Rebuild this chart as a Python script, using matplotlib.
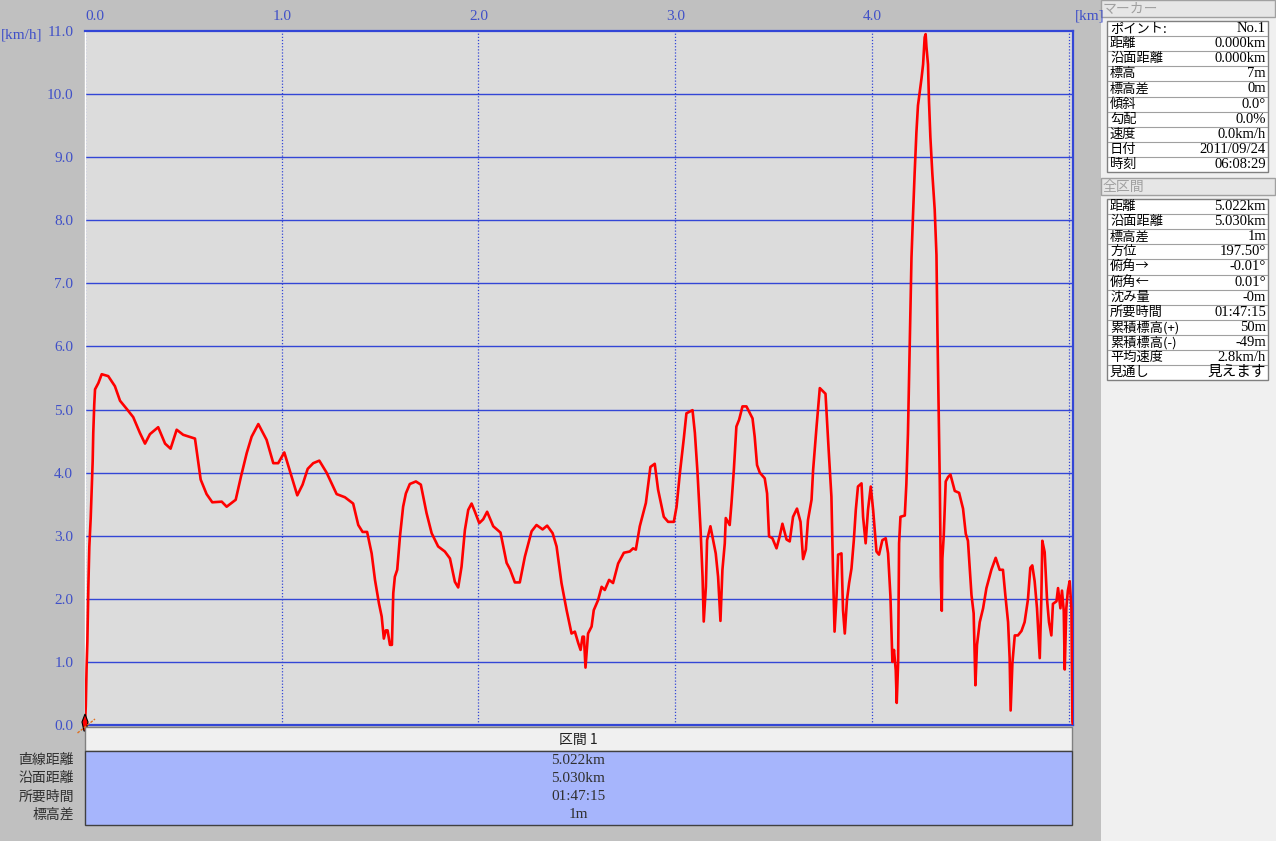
import matplotlib
matplotlib.use("Agg")
import matplotlib.pyplot as plt
from matplotlib.patches import Rectangle, Polygon

# distance along the track [km] and speed [km/h]
dist_km = [
    0.000, 0.004, 0.008, 0.012, 0.017, 0.022, 0.029, 0.034, 0.039, 0.042,
    0.047, 0.051, 0.068, 0.085, 0.118, 0.152, 0.178, 0.212, 0.245, 0.279,
    0.305, 0.330, 0.372, 0.407, 0.435, 0.466, 0.499, 0.559, 0.588, 0.618,
    0.647, 0.695, 0.720, 0.766, 0.793, 0.822, 0.847, 0.881, 0.923, 0.957,
    0.982, 1.013, 1.042, 1.079, 1.106, 1.132, 1.160, 1.191, 1.228, 1.279,
    1.321, 1.363, 1.389, 1.411, 1.434, 1.457, 1.474, 1.494, 1.508, 1.519,
    1.529, 1.538, 1.550, 1.560, 1.567, 1.575, 1.587, 1.601, 1.617, 1.631,
    1.651, 1.682, 1.707, 1.736, 1.762, 1.795, 1.829, 1.855, 1.880, 1.897,
    1.914, 1.931, 1.948, 1.965, 1.982, 2.004, 2.024, 2.044, 2.075, 2.112,
    2.143, 2.160, 2.185, 2.210, 2.236, 2.270, 2.295, 2.326, 2.349, 2.377,
    2.397, 2.422, 2.448, 2.473, 2.490, 2.507, 2.519, 2.529, 2.536, 2.544,
    2.557, 2.575, 2.586, 2.608, 2.626, 2.642, 2.664, 2.684, 2.710, 2.739,
    2.769, 2.786, 2.800, 2.820, 2.851, 2.874, 2.896, 2.913, 2.942, 2.964,
    2.993, 3.007, 3.023, 3.044, 3.057, 3.088, 3.100, 3.113, 3.129, 3.139,
    3.145, 3.156, 3.162, 3.179, 3.206, 3.218, 3.230, 3.240, 3.252, 3.257,
    3.277, 3.286, 3.298, 3.311, 3.325, 3.342, 3.362, 3.393, 3.404, 3.416,
    3.430, 3.455, 3.467, 3.477, 3.494, 3.515, 3.531, 3.545, 3.566, 3.582,
    3.599, 3.619, 3.637, 3.650, 3.664, 3.675, 3.693, 3.701, 3.718, 3.735,
    3.764, 3.780, 3.794, 3.802, 3.810, 3.820, 3.828, 3.845, 3.853, 3.862,
    3.873, 3.884, 3.896, 3.908, 3.918, 3.929, 3.947, 3.955, 3.968, 3.980,
    3.994, 4.006, 4.023, 4.036, 4.053, 4.070, 4.082, 4.094, 4.104, 4.112,
    4.121, 4.126, 4.133, 4.138, 4.145, 4.167, 4.175, 4.183, 4.192, 4.201,
    4.209, 4.217, 4.226, 4.234, 4.243, 4.252, 4.260, 4.268, 4.273, 4.277,
    4.285, 4.290, 4.297, 4.307, 4.319, 4.328, 4.333, 4.339, 4.345, 4.350,
    4.355, 4.358, 4.365, 4.375, 4.387, 4.399, 4.421, 4.443, 4.463, 4.477,
    4.488, 4.506, 4.517, 4.526, 4.534, 4.548, 4.565, 4.582, 4.607, 4.629,
    4.649, 4.666, 4.678, 4.692, 4.700, 4.705, 4.714, 4.726, 4.742, 4.760,
    4.776, 4.793, 4.805, 4.815, 4.827, 4.839, 4.853, 4.861, 4.866, 4.878,
    4.890, 4.900, 4.912, 4.920, 4.938, 4.946, 4.958, 4.966, 4.975, 4.980,
    4.988, 4.996, 5.005, 5.014, 5.019, 5.022,
]
speed_kmh = [
    0.00, 0.30, 0.90, 1.32, 2.19, 2.83, 3.28, 3.73, 4.18, 4.63,
    5.08, 5.32, 5.42, 5.56, 5.53, 5.37, 5.14, 5.01, 4.88, 4.63,
    4.46, 4.61, 4.72, 4.46, 4.38, 4.68, 4.60, 4.54, 3.89, 3.66,
    3.53, 3.54, 3.46, 3.57, 3.94, 4.31, 4.57, 4.77, 4.52, 4.15,
    4.15, 4.32, 4.02, 3.64, 3.81, 4.06, 4.15, 4.19, 4.00, 3.66,
    3.61, 3.51, 3.17, 3.06, 3.06, 2.72, 2.30, 1.93, 1.72, 1.37,
    1.50, 1.50, 1.27, 1.27, 2.09, 2.35, 2.46, 2.99, 3.46, 3.67,
    3.82, 3.86, 3.81, 3.36, 3.04, 2.83, 2.75, 2.64, 2.27, 2.18,
    2.51, 3.09, 3.41, 3.51, 3.38, 3.20, 3.26, 3.38, 3.15, 3.05,
    2.57, 2.47, 2.26, 2.26, 2.67, 3.07, 3.17, 3.10, 3.16, 3.04,
    2.83, 2.25, 1.82, 1.45, 1.48, 1.30, 1.19, 1.40, 1.40, 0.91,
    1.45, 1.56, 1.82, 1.98, 2.19, 2.14, 2.30, 2.25, 2.56, 2.73,
    2.75, 2.80, 2.78, 3.15, 3.52, 4.09, 4.14, 3.73, 3.30, 3.22,
    3.22, 3.46, 3.97, 4.55, 4.94, 4.99, 4.63, 4.02, 3.09, 2.35,
    1.64, 2.19, 2.93, 3.15, 2.72, 2.35, 1.65, 2.46, 2.88, 3.28,
    3.17, 3.51, 4.04, 4.73, 4.84, 5.05, 5.05, 4.86, 4.57, 4.12,
    4.00, 3.91, 3.67, 2.99, 2.96, 2.80, 2.99, 3.19, 2.94, 2.91,
    3.30, 3.43, 3.22, 2.63, 2.78, 3.25, 3.57, 4.04, 4.71, 5.34,
    5.25, 4.36, 3.62, 2.46, 1.48, 2.04, 2.70, 2.72, 1.82, 1.45,
    1.98, 2.25, 2.48, 2.93, 3.41, 3.78, 3.83, 3.30, 2.88, 3.41,
    3.78, 3.41, 2.75, 2.70, 2.93, 2.96, 2.72, 2.04, 1.00, 1.19,
    0.87, 0.35, 0.98, 2.88, 3.30, 3.32, 3.82, 4.61, 6.01, 7.41,
    8.10, 8.74, 9.39, 9.82, 10.04, 10.25, 10.47, 10.90, 10.95, 10.75,
    10.47, 9.89, 9.32, 8.74, 8.17, 7.45, 6.23, 5.01, 3.82, 2.35,
    1.81, 2.64, 3.00, 3.86, 3.93, 3.97, 3.71, 3.68, 3.43, 3.03,
    2.92, 2.06, 1.77, 0.63, 1.27, 1.63, 1.85, 2.17, 2.46, 2.65,
    2.46, 2.46, 2.06, 1.63, 1.06, 0.23, 0.98, 1.42, 1.42, 1.49,
    1.63, 1.99, 2.49, 2.53, 2.28, 1.85, 1.06, 1.99, 2.92, 2.74,
    1.99, 1.63, 1.42, 1.92, 1.96, 2.17, 1.85, 2.13, 1.81, 0.88,
    1.85, 2.13, 2.28, 1.85, 0.05, 0.00,
]

x_ticks = [0, 1, 2, 3, 4]
x_labels = ["0.0", "1.0", "2.0", "3.0", "4.0"]
y_ticks = list(range(12))
y_labels = ["%.1f" % v for v in y_ticks]

section_title = "区間 1"
section_rows = ["直線距離", "沿面距離", "所要時間", "標高差"]
section_vals = ["5.022km", "5.030km", "01:47:15", "1m"]

marker_rows = ["ポイント:", "距離", "沿面距離", "標高", "標高差", "傾斜", "勾配", "速度", "日付", "時刻"]
marker_vals = ["No.1", "0.000km", "0.000km", "7m", "0m", "0.0°", "0.0%", "0.0km/h", "2011/09/24", "06:08:29"]

total_rows = ["距離", "沿面距離", "標高差", "方位", "俯角→", "俯角←", "沈み量", "所要時間",
              "累積標高(+)", "累積標高(-)", "平均速度", "見通し"]
total_vals = ["5.022km", "5.030km", "1m", "197.50°", "-0.01°", "0.01°", "-0m", "01:47:15",
              "50m", "-49m", "2.8km/h", "見えます"]

# styling
W, H = 1276, 841
blue = "#3346d6"
tick_blue = "#4050c8"
num_font = ["Liberation Serif", "Noto Sans CJK JP", "DejaVu Sans"]
jp_font = ["Noto Sans CJK JP", "DejaVu Sans"]
plt.rcParams["font.family"] = num_font

fig = plt.figure(figsize=(W / 100, H / 100), dpi=100, facecolor="#c0c0c0")

# main chart area (pixel box 85..1073 x 31..725)
ax = fig.add_axes([85 / W, (H - 725) / H, 988 / W, 694 / H])
ax.set_facecolor("#dcdcdc")
ax.set_xlim(0, 5.022)
ax.set_ylim(0, 11.0)

for v in range(1, 11):
    ax.axhline(v, color=blue, lw=1.0, zorder=1)
for d in [0, 1, 2, 3, 4, 5]:
    ax.axvline(d, color=blue, lw=0.9, ls=(0, (1, 1.5)), zorder=1)

ax.plot(dist_km, speed_kmh, color="#ff0000", lw=1.9, zorder=3)

for side in ["top", "bottom", "right"]:
    ax.spines[side].set_color(blue)
    ax.spines[side].set_linewidth(1.6)
ax.spines["left"].set_color("white")
ax.spines["left"].set_linewidth(1.0)

ax.xaxis.tick_top()
ax.set_xticks(x_ticks)
ax.set_xticklabels(x_labels)
ax.set_yticks(y_ticks)
ax.set_yticklabels(y_labels)
ax.tick_params(axis="x", length=0, pad=6, labelsize=11, labelcolor=tick_blue)
ax.tick_params(axis="y", length=0, pad=8.5, labelsize=11, labelcolor=tick_blue)
ax.get_xticklabels()[0].set_horizontalalignment("left")

# overlay in pixel coordinates for the window chrome
ov = fig.add_axes([0, 0, 1, 1], facecolor="none", zorder=5)
ov.set_xlim(0, W)
ov.set_ylim(H, 0)
ov.axis("off")

ov.text(1, 35, "[km/h]", color=tick_blue, fontsize=11, va="center", ha="left")
ov.text(1075, 16, "[km]", color=tick_blue, fontsize=11, va="center", ha="left")

# start marker
ov.plot([77.5, 95], [733, 719], color="#e07020", lw=1.0, ls=(0, (2, 1)))
ov.add_patch(Polygon([[85, 714], [88, 722], [86, 731], [84, 731], [82, 722]],
                     closed=True, facecolor="#ff0000", edgecolor="black", lw=0.8))

# section table below the chart
ov.add_patch(Rectangle((85, 727), 987, 24, facecolor="#f0f0f0", edgecolor="#808080", lw=1.0))
ov.add_patch(Rectangle((85, 751), 987, 74, facecolor="#a6b5fc", edgecolor="#404040", lw=1.0))
ov.text(578, 739.5, section_title, family=jp_font, fontsize=10, ha="center", va="center", color="#202020")
for i, (lab, val) in enumerate(zip(section_rows, section_vals)):
    yy = 760 + i * 18.3
    ov.text(74, yy, lab, family=jp_font, fontsize=10, ha="right", va="center", color="#303030")
    ov.text(578, yy, val, fontsize=11, ha="center", va="center", color="#303030")

# right info panel
ov.add_patch(Rectangle((1101, 0), W - 1101, H, facecolor="#f0f0f0", edgecolor="none"))


def header(y, title):
    ov.add_patch(Rectangle((1101, y), W - 1102, 17, facecolor="#e6e6e6", edgecolor="#a0a0a0", lw=1.0))
    ov.text(1103, y + 8.5, title, family=jp_font, fontsize=10, ha="left", va="center", color="#a0a0a0")


def info_table(y0, rows, vals):
    rh = 15.1
    ov.add_patch(Rectangle((1107, y0), 161, rh * len(rows), facecolor="white", edgecolor="#808080", lw=1.0))
    for i, (lab, val) in enumerate(zip(rows, vals)):
        yc = y0 + rh * (i + 0.5)
        if i > 0:
            ov.plot([1108, 1267], [y0 + rh * i] * 2, color="#a0a0a0", lw=0.8)
        ov.text(1110, yc, lab, family=jp_font, fontsize=9.5, ha="left", va="center", color="black")
        ov.text(1266, yc, val, fontsize=10.5, ha="right", va="center", color="black")


header(0, "マーカー")
info_table(21, marker_rows, marker_vals)
header(178, "全区間")
info_table(199, total_rows, total_vals)

fig.savefig("out.png", dpi=100, facecolor=fig.get_facecolor())
